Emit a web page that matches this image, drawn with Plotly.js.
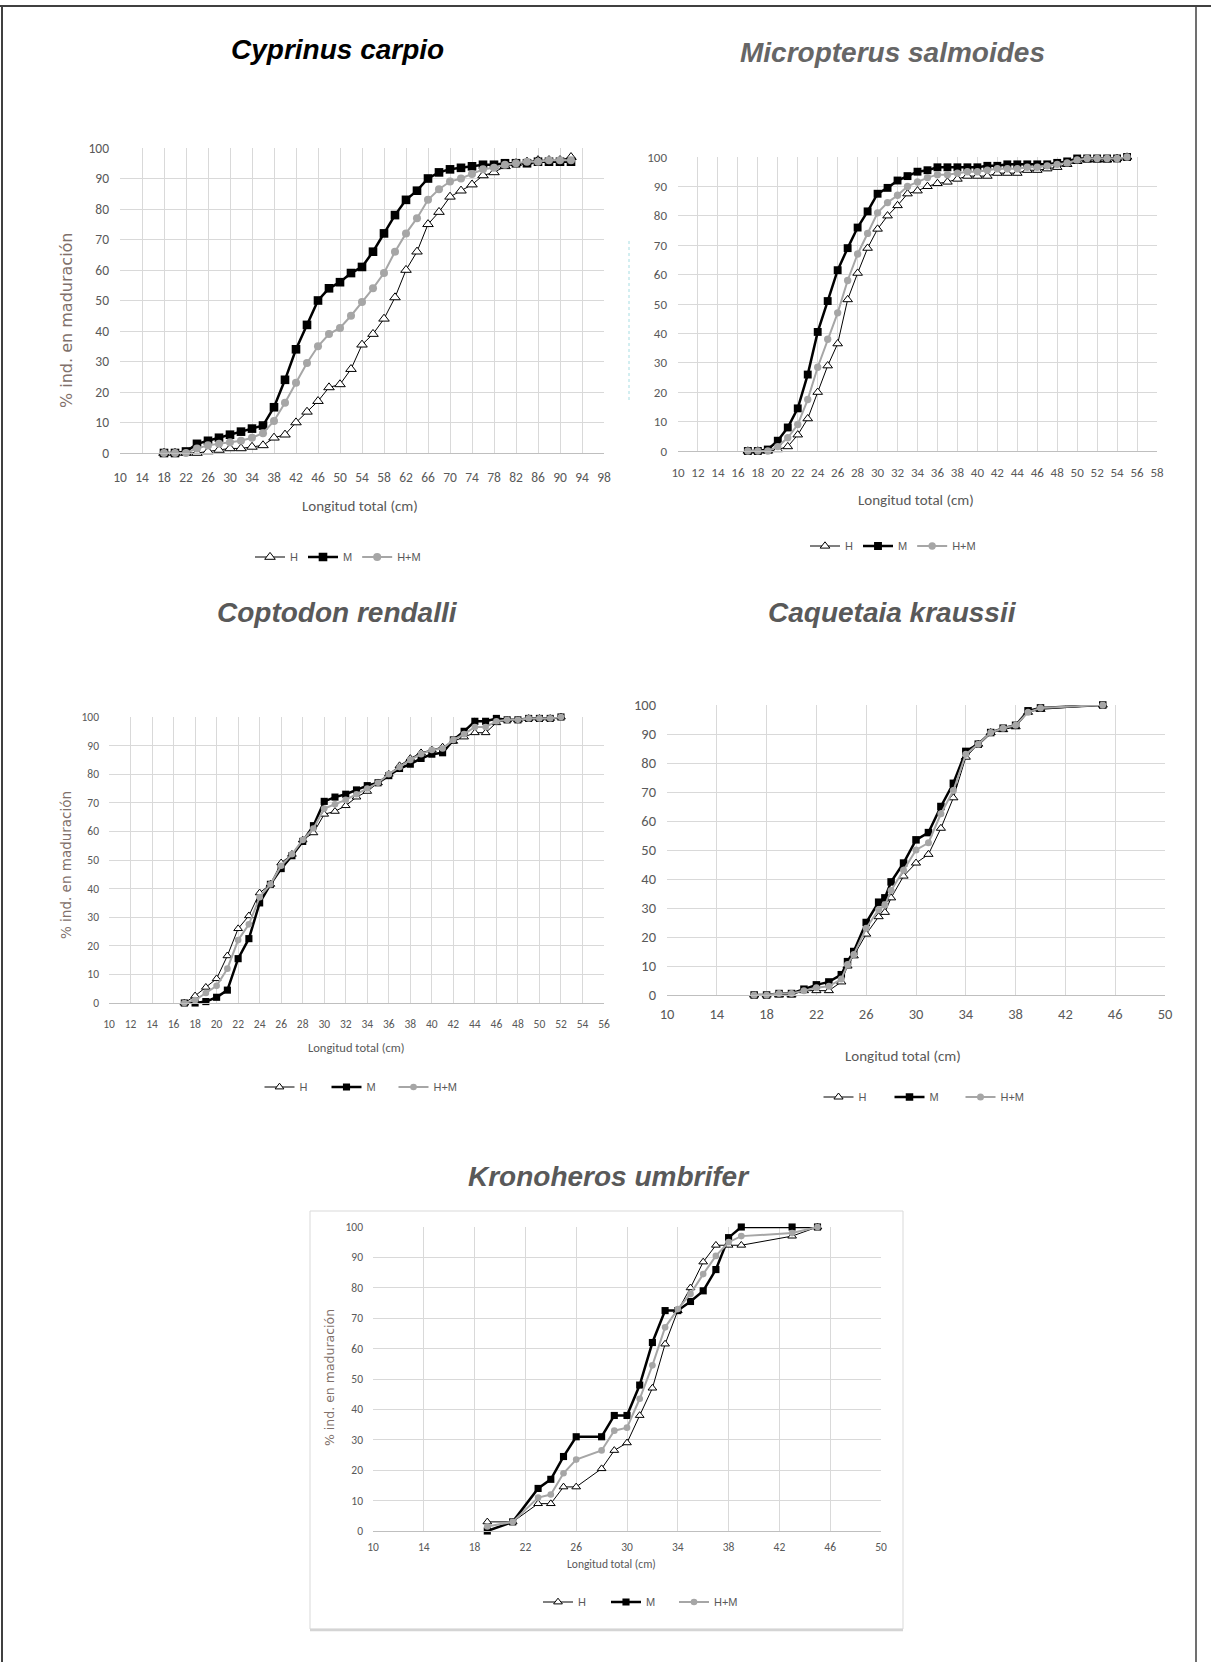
<!DOCTYPE html>
<html><head><meta charset="utf-8">
<script src="https://cdn.plot.ly/plotly-3.0.1.min.js"></script>
<style>html,body{margin:0;padding:0;background:#fff}</style>
</head><body>
<div id="chart" style="width:1211px;height:1662px"></div>
<script>
// ---------- DATA ----------
// Cyprinus carpio
const cc_x  = [18,20,22,24,26,28,30,32,34,36,38,40,42,44,46,48,50,52,54,56,58,60,62,64,66,68,70,72,74,76,78,80,82,84,86,88,90,92];
const cc_H  = [0,0,0,0,0.5,1,1.5,1.5,2,2.5,5,6,10,13.5,17,21.5,22.5,27.5,35.5,39,44,51,60,66,75,79,84,86,88,91,92,94,95,95.5,96,96,96,97];
const cc_M  = [0,0,0.5,3,4,5,6,7,8,9,15,24,34,42,50,54,56,59,61,66,72,78,83,86,90,92,93,93.5,94,94.5,94.5,95,95,95,95.5,95.5,95.5,95.5];
const cc_HM = [0,0,0,1.5,2.5,3,3.5,4,5,6.5,10.5,16.5,23,29.5,35,39,41,45,49.5,54,59,66,72,77,83,86.5,89,90,91.5,93,93.5,94.5,95,95.5,95.5,96,96,96];

// Micropterus salmoides
const ms_x  = [17,18,19,20,21,22,23,24,25,26,27,28,29,30,31,32,33,34,35,36,37,38,39,40,41,42,43,44,45,46,47,48,49,50,51,52,53,54,55];
const ms_H  = [0,0,0,0.5,1.5,5.5,11,20,29,36.5,51.5,60.5,69,75.5,80,83.5,87.5,88.5,90,91,91.5,92.5,93.5,93.5,93.5,94.5,94.5,94.5,95.5,95.5,96,96.5,97.5,98.5,99,99,99,99.5,100];
const ms_M  = [0,0,0.5,3.5,8,14.5,26,40.5,51,61.5,69,76,81.5,87.5,89.5,92,93.5,95,95.5,96.5,96.5,96.5,96.5,96.5,97,97,97.5,97.5,97.5,97.5,97.5,98,98.5,99.5,99.5,99.5,99.5,99.5,100];
const ms_HM = [0,0,0,1.5,4.5,9,17.5,28.5,38,47,58,67,74,81,84.5,87,90,91.5,93,94,94,94.5,95,95,95.5,96,96,96,96.5,96.5,97,97.5,98,99,99.5,99.5,99.5,99.5,100];

// Coptodon rendalli
const cr_x  = [17,18,19,20,21,22,23,24,25,26,27,28,29,30,31,32,33,34,35,36,37,38,39,40,41,42,43,44,45,46,47,48,49,50,51,52];
const cr_H  = [0,2.5,5.5,8.5,16.5,26,30.5,38.5,41.5,49,52,57,59.5,66,67,69,72,74,77,80,83,85.5,87.5,88.5,89.5,91.5,93,94.5,94.5,98,99,99,99.5,99.5,99.5,100];
const cr_M  = [0,0,0.5,2,4.5,15.5,22.5,35,41.5,47,51.5,56.5,62,70.5,72,73,74.5,76,77,79.5,82,83.5,85.5,87,87.5,92,95,98.5,98.5,99.5,99,99,99.5,99.5,99.5,100];
const cr_HM = [0,1,3.5,6,12,22,27.5,37,41.5,48,52,57,61,68,69.5,71,73,75,77,80,82.5,85,87,88.5,89,92,94,96.5,96.5,98.5,99,99,99.5,99.5,99.5,100];

// Caquetaia kraussii
const ck_x  = [17,18,19,20,21,22,23,24,24.5,25,26,27,27.5,28,29,30,31,32,33,34,35,36,37,38,39,40,45];
const ck_H  = [0,0,0,0,1.5,1.5,1.5,4.5,10,13.5,21,27,28.5,33.5,41,45.5,48.5,57.5,68,82,86.5,90.5,91.5,92.5,97.5,98.5,100];
const ck_M  = [0,0,0.5,0.5,2,3.5,4.5,7,11.5,15,25,32,33.5,39,45.5,53.5,56,65,73,84,86.5,90.5,92,93,98,99,100];
const ck_HM = [0,0,0.5,0.5,1.5,2.5,3,5.5,10.5,14,23,29.5,31,36,43,50,52.5,62.5,70.5,83,86.5,90.5,92,93,97.5,99,100];

// Kronoheros umbrifer
const ku_x  = [19,21,23,24,25,26,28,29,30,31,32,33,34,35,36,37,38,39,43,45];
const ku_H  = [3,3,9,9,14.5,14.5,20.5,26.5,29,38,47,61.5,72.5,80,88.5,94,94,94,97,100];
const ku_M  = [0,3,14,17,24.5,31,31,38,38,48,62,72.5,72.5,75.5,79,86,96.5,100,100,100];
const ku_HM = [1.5,3,11,12,19,23.5,26.5,33,34,43.5,54.5,67,73,78,84.5,90.5,95,97,98,100];

const speciesNames = ['Cyprinus carpio','Micropterus salmoides','Coptodon rendalli','Caquetaia kraussii','Kronoheros umbrifer'];
const seriesNames = ['H','M','H+M'];
const xTitle = 'Longitud total (cm)';
const yTitle = '% ind. en maduración';

// ---------- LAYOUT ----------
const W = 1211, H = 1662;
const px = v => v / W;
const py = v => 1 - v / H;
const TICKFONT = 'Carlito, Lato, sans-serif';

const panels = [
  {x:cc_x,h:cc_H,m:cc_M,hm:cc_HM, xr:[10,98], dt:4, xl:120, xr2:604, yt:148, yb:453, tf:13.5, ms:1.15, xs:12, ys:10,
   title:[337,50,'#000000'], xt:[360,506,15], yti:[66,320,16], leg:[338,557,0]},
  {x:ms_x,h:ms_H,m:ms_M,hm:ms_HM, xr:[10,58], dt:2, xl:678, xr2:1157, yt:157, yb:451, tf:13, ms:1.05, xs:9, ys:10,
   title:[892,52,'#666666'], xt:[916,500,15], yti:null, leg:[893,546,0]},
  {x:cr_x,h:cr_H,m:cr_M,hm:cr_HM, xr:[10,56], dt:2, xl:109, xr2:604, yt:717, yb:1003, tf:11.5, ms:0.95, xs:10, ys:9,
   title:[337,612,'#595959'], xt:[356,1047,12.5], yti:[66,865,13.5], leg:[360,1087,22]},
  {x:ck_x,h:ck_H,m:ck_M,hm:ck_HM, xr:[10,50], dt:4, xl:667, xr2:1165, yt:705, yb:995, tf:14.5, ms:1.0, xs:6, ys:10,
   title:[892,612,'#595959'], xt:[903,1056,15], yti:null, leg:[925,1097,26]},
  {x:ku_x,h:ku_H,m:ku_M,hm:ku_HM, xr:[10,50], dt:4, xl:373, xr2:881, yt:1227, yb:1531, tf:11.5, ms:0.95, xs:5, ys:9,
   title:[609,1176,'#595959'], xt:[611,1564,11.5], yti:[329,1377,12.5], leg:[640,1602,23]}
];

const traces = [];
const layout = {
  width: W, height: H,
  margin: {l:0, r:0, t:0, b:0},
  paper_bgcolor: '#ffffff', plot_bgcolor: '#ffffff',
  annotations: [], shapes: [],
  showlegend: true
};

panels.forEach((p, i) => {
  const n = i + 1;
  const xa = n === 1 ? 'x' : 'x' + n;
  const ya = n === 1 ? 'y' : 'y' + n;
  const lg = n === 1 ? 'legend' : 'legend' + n;
  const s = p.ms;
  traces.push({
    type:'scatter', mode:'lines+markers', name:seriesNames[0], x:p.x, y:p.h, xaxis:xa, yaxis:ya, legend:lg,
    line:{color:'#000000', width:1}, cliponaxis:false,
    marker:{symbol:'triangle-up', size:8*s, color:'#ffffff', line:{color:'#000000', width:1}}
  });
  traces.push({
    type:'scatter', mode:'lines+markers', name:seriesNames[1], x:p.x, y:p.m, xaxis:xa, yaxis:ya, legend:lg,
    line:{color:'#000000', width:2.5}, cliponaxis:false,
    marker:{symbol:'square', size:7.5*s, color:'#000000'}
  });
  traces.push({
    type:'scatter', mode:'lines+markers', name:seriesNames[2], x:p.x, y:p.hm, xaxis:xa, yaxis:ya, legend:lg,
    line:{color:'#a6a6a6', width:2}, cliponaxis:false,
    marker:{symbol:'circle', size:7*s, color:'#a6a6a6'}
  });
  layout[n === 1 ? 'xaxis' : 'xaxis' + n] = {
    domain:[px(p.xl), px(p.xr2)], range:p.xr, tickmode:'linear', tick0:10, dtick:p.dt,
    anchor:ya, showgrid:true, gridcolor:'#d9d9d9', gridwidth:1, zeroline:false,
    showline:true, linecolor:'#bfbfbf', linewidth:1, ticks:'', fixedrange:true,
    ticklabelstandoff:p.xs,
    tickfont:{family:TICKFONT, size:p.tf, color:'#595959'}
  };
  layout[n === 1 ? 'yaxis' : 'yaxis' + n] = {
    domain:[py(p.yb), py(p.yt)], range:[0,100], tickmode:'linear', tick0:0, dtick:10,
    anchor:xa, showgrid:true, gridcolor:'#d9d9d9', gridwidth:1, zeroline:false,
    showline:false, ticks:'', fixedrange:true,
    ticklabelstandoff:p.ys,
    tickfont:{family:TICKFONT, size:p.tf, color:'#595959'}
  };
  const legObj = {
    x:px(p.leg[0]), y:py(p.leg[1]), xanchor:'center', yanchor:'middle', orientation:'h',
    bgcolor:'rgba(0,0,0,0)', itemwidth:30,
    font:{family:'Liberation Sans, Arial, sans-serif', size:11, color:'#595959'}
  };
  if (p.leg[2]) { legObj.entrywidth = p.leg[2]; legObj.entrywidthmode = 'pixels'; }
  layout[lg] = legObj;

  layout.annotations.push({
    xref:'paper', yref:'paper', x:px(p.title[0]), y:py(p.title[1]), xanchor:'center', yanchor:'middle',
    showarrow:false, text:'<b><i>' + speciesNames[i] + '</i></b>',
    font:{family:'Liberation Sans, Arial, sans-serif', size:28, color:p.title[2]}
  });
  layout.annotations.push({
    xref:'paper', yref:'paper', x:px(p.xt[0]), y:py(p.xt[1]), xanchor:'center', yanchor:'middle',
    showarrow:false, text:xTitle,
    font:{family:TICKFONT, size:p.xt[2], color:'#595959'}
  });
  if (p.yti) {
    layout.annotations.push({
      xref:'paper', yref:'paper', x:px(p.yti[0]), y:py(p.yti[1]), xanchor:'center', yanchor:'middle',
      showarrow:false, text:yTitle, textangle:-90,
      font:{family:'DejaVu Sans, sans-serif', size:p.yti[2], color:'#7f706a'}
    });
  }
});

// Outer frame
layout.shapes.push({type:'line', xref:'paper', yref:'paper', x0:0, x1:1, y0:py(6), y1:py(6), line:{color:'#404040', width:2}});
layout.shapes.push({type:'line', xref:'paper', yref:'paper', x0:px(2), x1:px(2), y0:py(6), y1:0, line:{color:'#404040', width:2}});
layout.shapes.push({type:'line', xref:'paper', yref:'paper', x0:px(1196), x1:px(1196), y0:py(6), y1:0, line:{color:'#404040', width:1.5}});
// Kronoheros chart box
layout.shapes.push({type:'rect', xref:'paper', yref:'paper', x0:px(310), x1:px(903), y0:py(1629), y1:py(1211), line:{color:'#d9d9d9', width:1}});
layout.shapes.push({type:'line', xref:'paper', yref:'paper', x0:px(310), x1:px(903), y0:py(1630), y1:py(1630), line:{color:'#d4d4d4', width:2.5}});
// faint leftover dashed line near Micropterus panel
layout.shapes.push({type:'line', xref:'paper', yref:'paper', x0:px(629), x1:px(629), y0:py(400), y1:py(240), line:{color:'#a6dde2', width:1, dash:'dot'}});

Plotly.newPlot('chart', traces, layout, {displayModeBar:false, staticPlot:true});
</script>
</body></html>
